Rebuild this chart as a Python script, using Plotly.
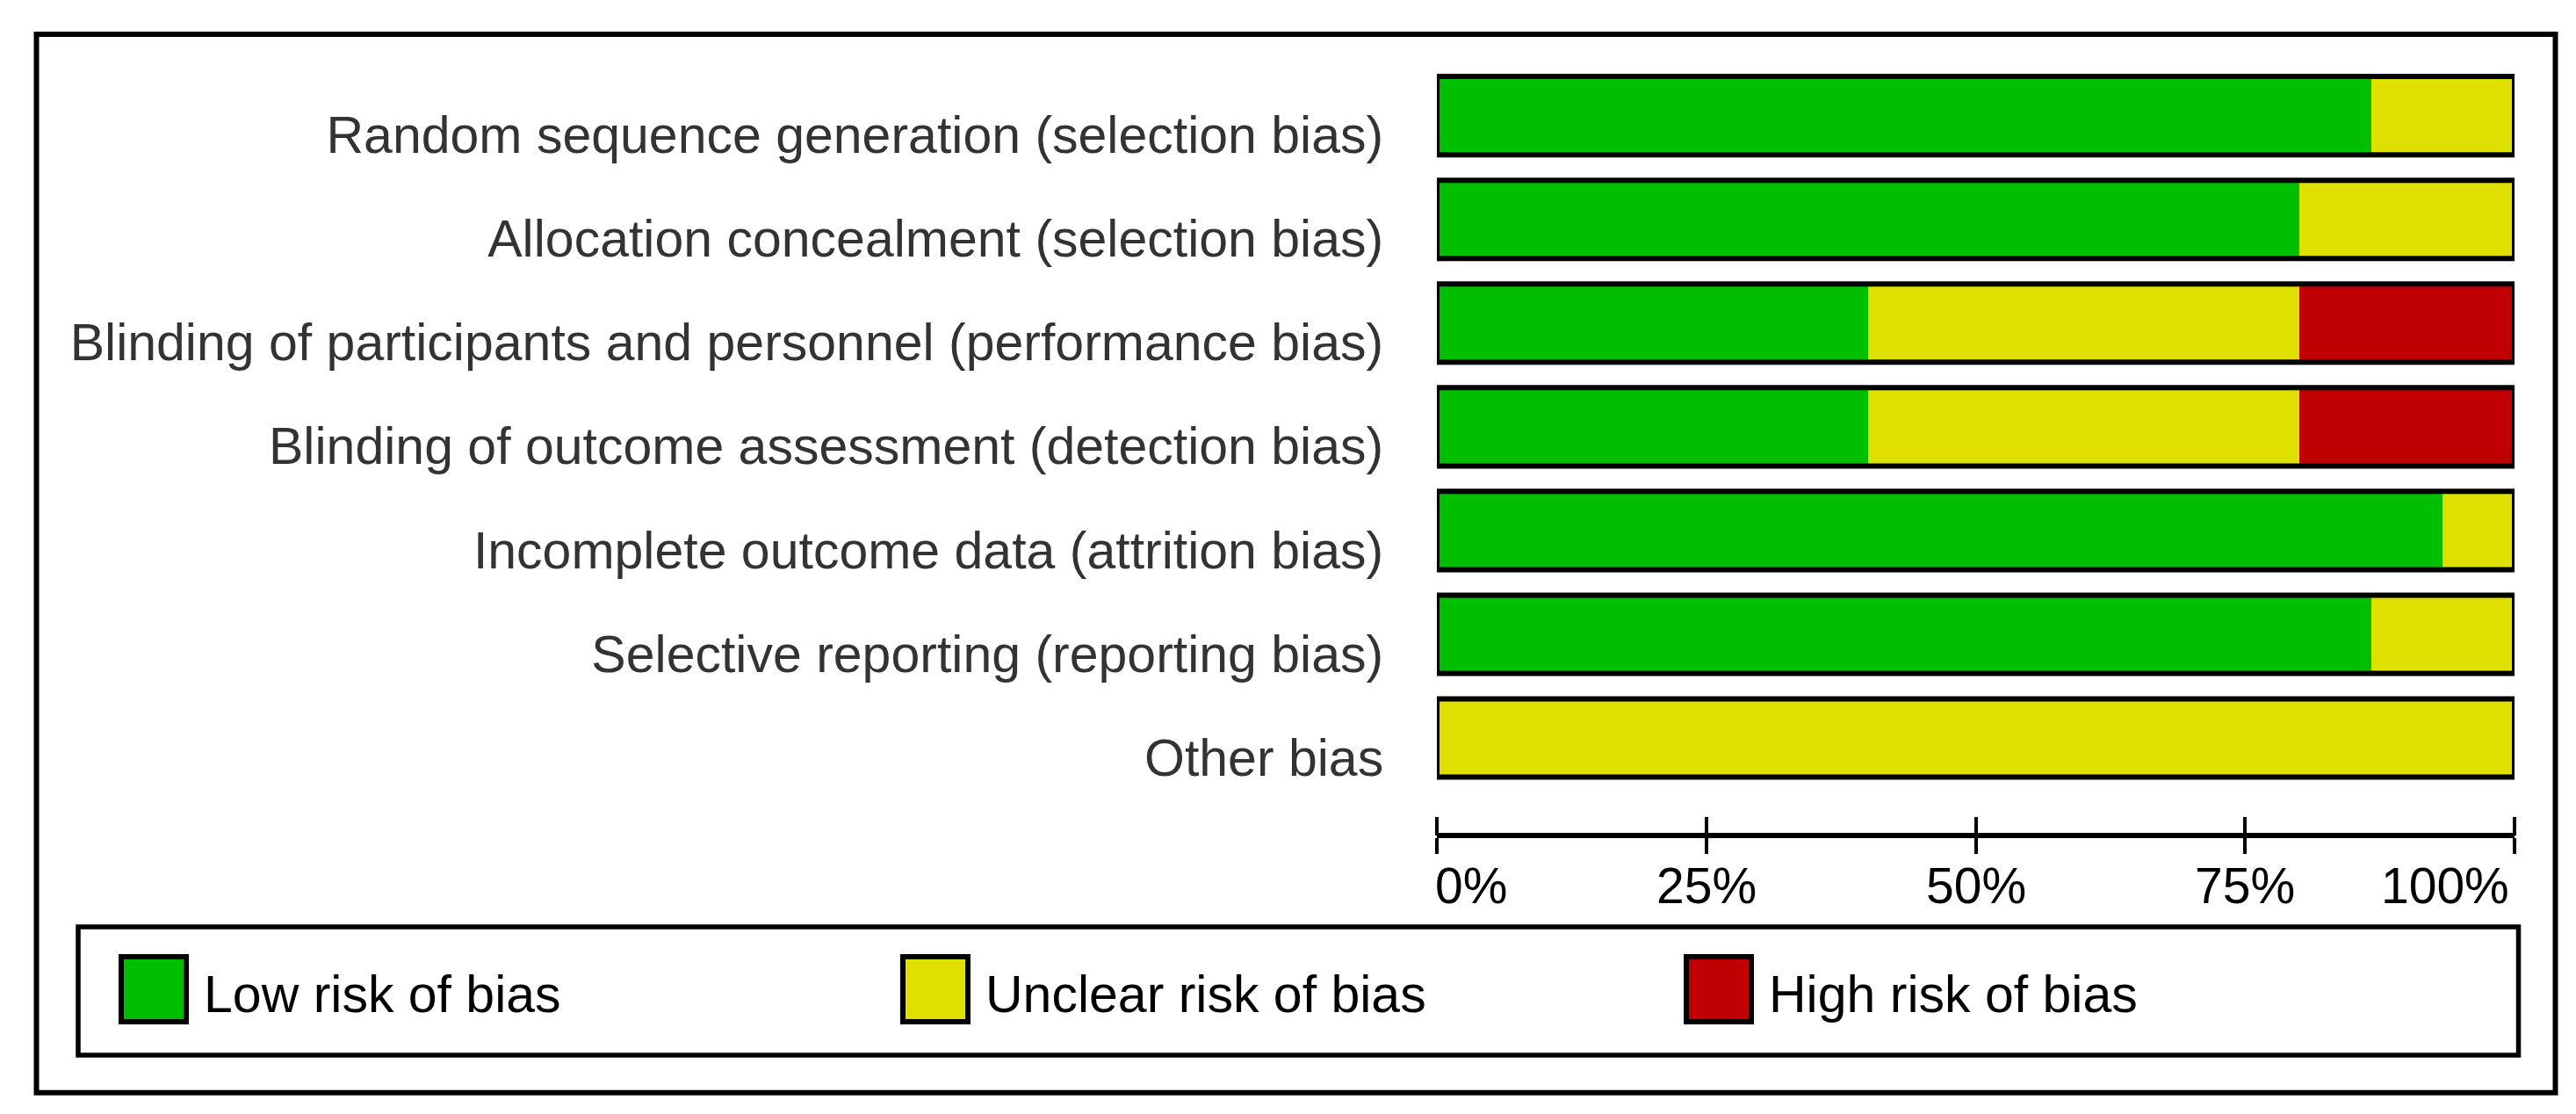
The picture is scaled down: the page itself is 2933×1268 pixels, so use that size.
import plotly.graph_objects as go

# risk of bias summary, percent of studies per domain
domains = ['Random sequence generation (selection bias)',
           'Allocation concealment (selection bias)',
           'Blinding of participants and personnel (performance bias)',
           'Blinding of outcome assessment (detection bias)',
           'Incomplete outcome data (attrition bias)',
           'Selective reporting (reporting bias)',
           'Other bias']
low_risk = [86.7, 80.0, 40.0, 40.0, 93.3, 86.7, 0.0]
unclear_risk = [13.3, 20.0, 40.0, 40.0, 6.7, 13.3, 100.0]
high_risk = [0.0, 0.0, 20.0, 20.0, 0.0, 0.0, 0.0]

series_names = ['Low risk of bias', 'Unclear risk of bias', 'High risk of bias']
series_colors = ['#00BF00', '#E0E000', '#C00000']

tick_vals = [0, 25, 50, 75, 100]
tick_text = ['0%', '25%', '50%', '75%', '100%']

# page geometry (pixels)
W, H = 2933, 1268
PL, PR = 1628, 2855              # plot area left/right
PB = 943                         # axis line
ROW = 118                        # row pitch
FIRST_LABEL = 146                # centre of first label
TOP_EXTRA = 0.2                  # room above first bar (category units)
BARS_BOTTOM = FIRST_LABEL + 6.5 * ROW
PT = FIRST_LABEL - (0.5 + TOP_EXTRA) * ROW
FONT = 'Liberation Sans, Arial, sans-serif'

bar_width = 0.755
bar_offset = -0.186 - bar_width / 2   # bars sit a little above their labels


def px(x):
    return (x - PL) / (PR - PL)


def py(y):
    return (PB - y) / (PB - PT)


fig = go.Figure()
for name, vals, col in zip(series_names, [low_risk, unclear_risk, high_risk], series_colors):
    fig.add_trace(go.Bar(y=domains, x=vals, name=name, orientation='h',
                         marker=dict(color=col, line=dict(width=0)),
                         width=bar_width, offset=bar_offset, showlegend=False,
                         hoverinfo='skip'))
# empty trace so the second (tick-only) axis is drawn
fig.add_trace(go.Scatter(x=[None], y=[None], xaxis='x2', mode='markers',
                         showlegend=False, hoverinfo='skip'))

shapes = []
# outline around each full bar
for i in range(len(domains)):
    total = low_risk[i] + unclear_risk[i] + high_risk[i]
    shapes.append(dict(type='rect', xref='x', yref='y', x0=0, x1=total,
                       y0=i + bar_offset, y1=i + bar_offset + bar_width,
                       line=dict(color='black', width=6), fillcolor='rgba(0,0,0,0)',
                       layer='above'))

# outer frame
shapes.append(dict(type='rect', xref='paper', yref='paper',
                   x0=px(33.5), x1=px(2901.5), y0=py(1235.5), y1=py(31.5),
                   line=dict(color='black', width=6)))
# legend box
shapes.append(dict(type='rect', xref='paper', yref='paper',
                   x0=px(81), x1=px(2859.5), y0=py(1193), y1=py(1047),
                   line=dict(color='black', width=5.5)))

annotations = []
for v, t in zip(tick_vals, tick_text):
    if v == tick_vals[0]:
        anchor, shift = 'left', -4
    elif v == tick_vals[-1]:
        anchor, shift = 'right', -4
    else:
        anchor, shift = 'center', 0
    annotations.append(dict(x=v, y=py(1000), xref='x', yref='paper', text=t,
                            showarrow=False, xanchor=anchor, yanchor='middle',
                            xshift=shift,
                            font=dict(family=FONT, size=57, color='black')))

# legend items
swatch_x = [127, 1017, 1909]
for sx, name, col in zip(swatch_x, series_names, series_colors):
    shapes.append(dict(type='rect', xref='paper', yref='paper',
                       x0=px(sx + 3), x1=px(sx + 77), y0=py(1155), y1=py(1081),
                       fillcolor=col, line=dict(color='black', width=6)))
    annotations.append(dict(x=px(sx + 95), y=py(1124), xref='paper', yref='paper',
                            text=name, showarrow=False, xanchor='left', yanchor='middle',
                            font=dict(family=FONT, size=59, color='black')))

fig.update_layout(
    barmode='stack',
    width=W, height=H, autosize=False,
    margin=dict(l=PL, r=W - PR, t=PT, b=H - PB, pad=0),
    paper_bgcolor='white', plot_bgcolor='white',
    shapes=shapes, annotations=annotations,
    xaxis=dict(range=[0, 100], anchor='free', position=0,
               showline=True, linecolor='black', linewidth=6,
               ticks='outside', ticklen=18, tickwidth=4, tickcolor='black',
               tickvals=tick_vals, showticklabels=False,
               showgrid=False, zeroline=False, fixedrange=True),
    # upper half of the crossing ticks
    xaxis2=dict(range=[0, 100], overlaying='x', anchor='free', position=0, side='top',
                showline=False, ticks='outside', ticklen=21, tickwidth=4, tickcolor='black',
                tickvals=tick_vals, showticklabels=False,
                showgrid=False, zeroline=False),
    yaxis=dict(domain=[(PB - BARS_BOTTOM) / (PB - PT), 1],
               categoryorder='array', categoryarray=domains,
               range=[len(domains) - 0.5, -0.5 - TOP_EXTRA],
               showline=False, showgrid=False, zeroline=False,
               ticks='outside', ticklen=48, tickcolor='rgba(0,0,0,0)',
               tickfont=dict(family=FONT, size=59, color='#333333')),
)

fig.write_html("out.html")
